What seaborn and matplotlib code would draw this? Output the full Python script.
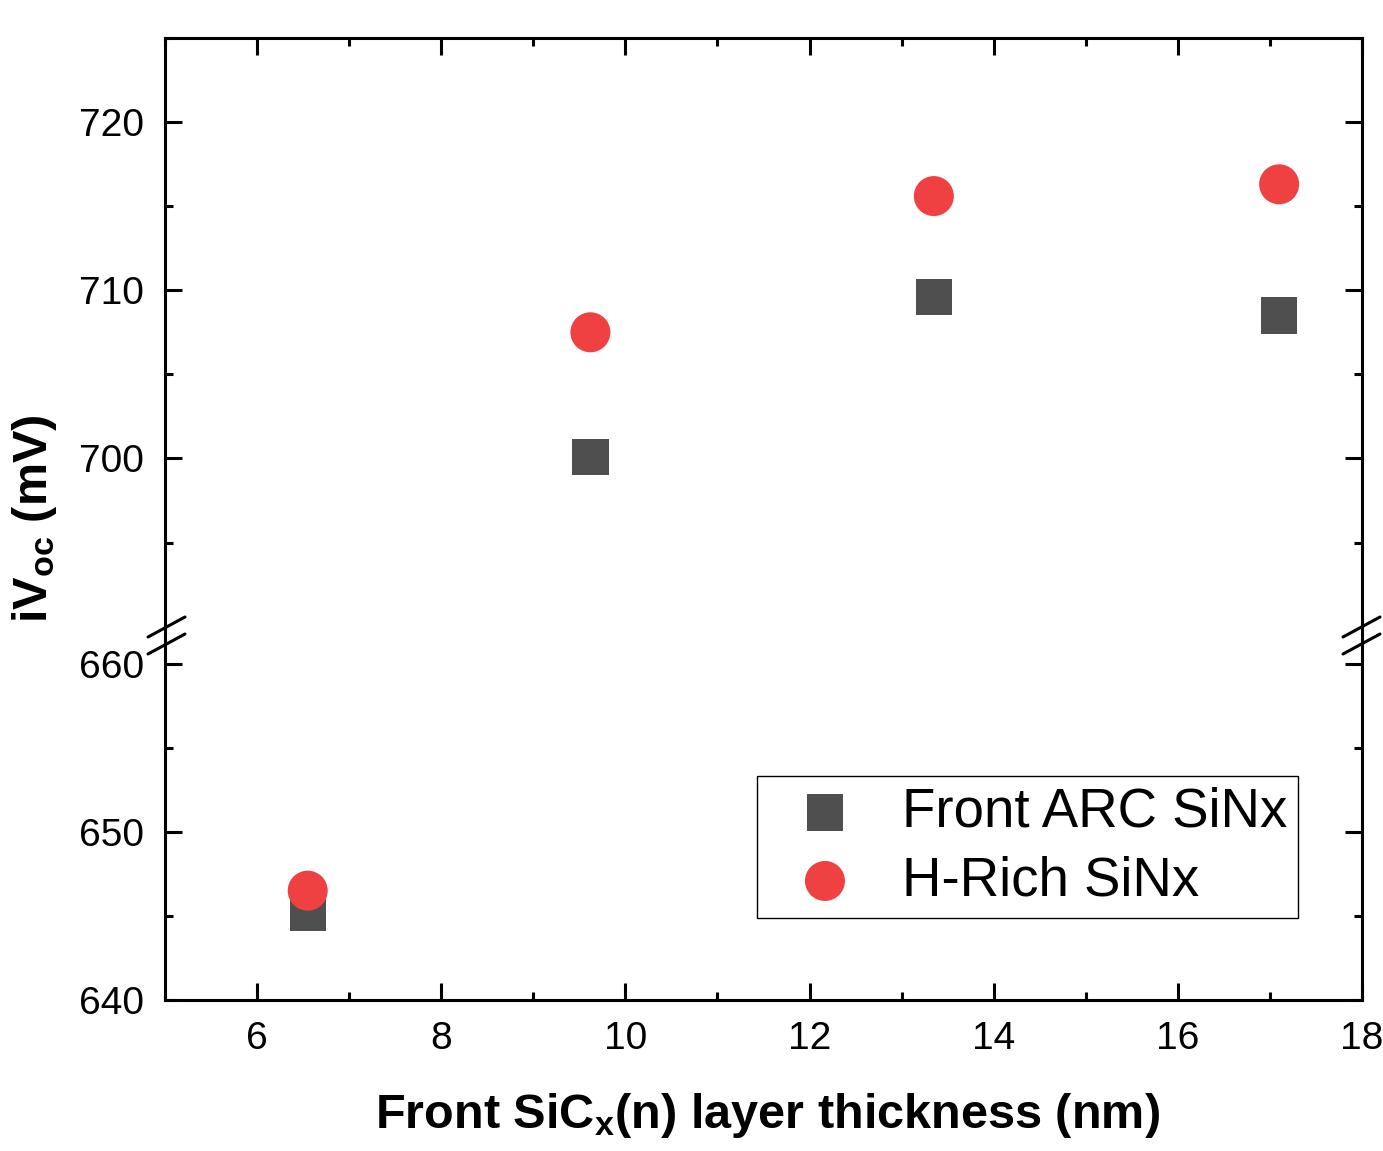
import numpy as np
import pandas as pd
import seaborn as sns
import matplotlib.pyplot as plt
from matplotlib.lines import Line2D
from matplotlib.ticker import MultipleLocator, FixedLocator

# data
thickness = [6.55, 9.62, 13.35, 17.1]
voc_arc = [645.2, 700.1, 709.6, 708.5]
voc_hrich = [646.5, 707.5, 715.6, 716.3]
series_names = ['Front ARC SiNx', 'H-Rich SiNx']

df = pd.DataFrame({
    'thickness': thickness * 2,
    'voc': voc_arc + voc_hrich,
    'series': [series_names[0]] * 4 + [series_names[1]] * 4,
})

sns.set_style('ticks')
plt.rcParams['font.family'] = ['Liberation Sans', 'DejaVu Sans']
plt.rcParams['text.color'] = 'black'
plt.rcParams['mathtext.fontset'] = 'custom'
plt.rcParams['mathtext.rm'] = 'Liberation Sans'
plt.rcParams['mathtext.bf'] = 'Liberation Sans:bold'
plt.rcParams['mathtext.it'] = 'Liberation Sans:italic'

W, H = 1383, 1151
fig = plt.figure(figsize=(W / 100, H / 100), dpi=100)

left, right = 165 / W, 1362 / W
top, bottom, brk = 1 - 38 / H, 1 - 1000 / H, 1 - 635 / H
ax_top = fig.add_axes([left, brk, right - left, top - brk])
ax_bot = fig.add_axes([left, bottom, right - left, brk - bottom], sharex=ax_top)

palette = {series_names[0]: '#4f4f4f', series_names[1]: '#ef4141'}
markers = {series_names[0]: 's', series_names[1]: 'o'}
sizes = {series_names[0]: 680, series_names[1]: 830}

for ax in (ax_top, ax_bot):
    for name in series_names:
        sub = df[df['series'] == name]
        sns.scatterplot(data=sub, x='thickness', y='voc', ax=ax, color=palette[name],
                        marker=markers[name], s=sizes[name], edgecolor='none',
                        linewidth=0, label=name if ax is ax_bot else None, zorder=3)

ax_top.set_ylim(689.5, 725)
ax_bot.set_ylim(640, 661.7)
ax_bot.set_xlim(5, 18)

ax_top.yaxis.set_major_locator(FixedLocator([700, 710, 720]))
ax_top.yaxis.set_minor_locator(FixedLocator([695, 705, 715, 725]))
ax_bot.yaxis.set_major_locator(FixedLocator([640, 650, 660]))
ax_bot.yaxis.set_minor_locator(FixedLocator([645, 655]))
ax_bot.xaxis.set_major_locator(MultipleLocator(2))
ax_bot.xaxis.set_minor_locator(MultipleLocator(1))

lw = 2.2
for ax in (ax_top, ax_bot):
    for sp in ax.spines.values():
        sp.set_linewidth(lw)
        sp.set_color('black')
    ax.set_xlabel('')
    ax.set_ylabel('')
    ax.tick_params(which='both', direction='in', width=lw, colors='black',
                   labelsize=28, pad=15, right=True)
    ax.tick_params(which='major', length=12)
    ax.tick_params(which='minor', length=6)

ax_top.spines['bottom'].set_visible(False)
ax_bot.spines['top'].set_visible(False)
ax_top.tick_params(which='both', bottom=False, labelbottom=False, top=True)
ax_bot.tick_params(which='both', top=False, bottom=True)

# break marks
def px(x, y):
    return (x / W, 1 - y / H)

for x0 in (148, 1343):
    for dy in (0, 17):
        (a, b), (c, d) = px(x0, 637 + dy), px(x0 + 37, 617 + dy)
        fig.add_artist(Line2D([a, c], [b, d], transform=fig.transFigure,
                              color='black', lw=lw, clip_on=False))

fig.text(0.5 * (left + right) + 0.003, 1 - 1115 / H,
         r'Front SiC$_\mathbf{x}$(n) layer thickness (nm)',
         ha='center', va='center', fontsize=35, fontweight='bold', color='black')
fig.text(35 / W, 0.5 * (top + bottom), r'$\mathbf{iV_{oc}}$ (mV)',
         ha='center', va='center', rotation=90, fontsize=35, fontweight='bold',
         color='black')

leg = ax_bot.legend(loc='upper left', bbox_to_anchor=px(757, 776),
                    bbox_transform=fig.transFigure, fontsize=39.3, frameon=True,
                    fancybox=False, edgecolor='black', framealpha=1,
                    borderaxespad=0, borderpad=0.2, handlelength=2.09,
                    handletextpad=0.365, labelspacing=0.30, labelcolor='black')
leg.get_frame().set_linewidth(1.0)

fig.savefig('out.png', dpi=100)
